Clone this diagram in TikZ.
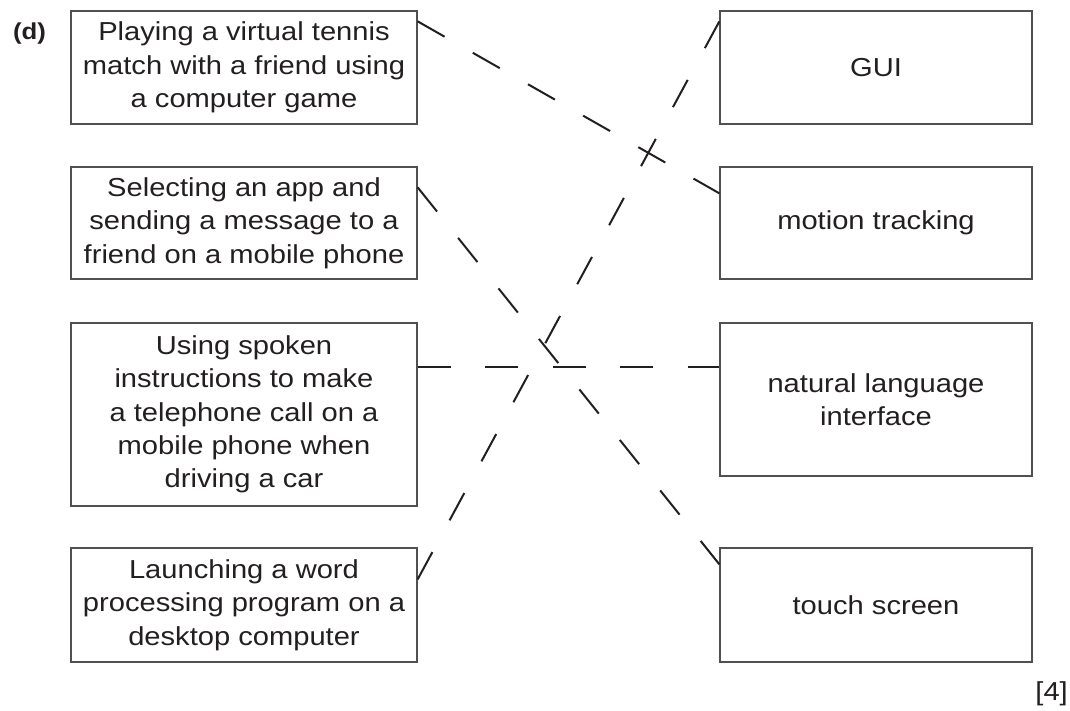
\documentclass[tikz,border=0pt]{standalone}
\usepackage{fontspec}
\setmainfont[FakeStretch=1.12]{Liberation Sans}
\usetikzlibrary{calc}
\definecolor{ink}{HTML}{231F20}
\definecolor{boxgray}{HTML}{505050}
\begin{document}
\begin{tikzpicture}[x=1pt,y=-1pt,
  box/.style={draw=boxgray, line width=1.3pt, inner sep=0pt, align=center,
    text=ink, font=\fontsize{26}{33.3}\selectfont},
  lbox/.style={box, minimum width=346pt},
  rbox/.style={box, minimum width=312pt},
  link/.style={draw=ink, line width=2pt}]
\useasboundingbox (0,0) rectangle (1070,711);

\node[text=ink, font=\bfseries\fontsize{23}{26}\selectfont, anchor=base] (lbl) at (29.5,40) {(d)};

\node[lbox, minimum height=113pt] (p1) at (244,67.5) {Playing a virtual tennis\\match with a friend using\\a computer game};
\node[lbox, minimum height=112pt] (p2) at (244,223) {Selecting an app and\\sending a message to a\\friend on a mobile phone};
\node[lbox, minimum height=183pt] (p3) at (244,414.5) {Using spoken\\instructions to make\\a telephone call on a\\mobile phone when\\driving a car};
\node[lbox, minimum height=114pt] (p4) at (244,605) {Launching a word\\processing program on a\\desktop computer};

\node[rbox, minimum height=113pt] (gui) at (876,67.5) {GUI};
\node[rbox, minimum height=112pt] (mot) at (876,223) {motion tracking};
\node[rbox, minimum height=153pt] (nli) at (876,399.5) {natural language\\interface};
\node[rbox, minimum height=114pt] (tch) at (876,605) {touch screen};

\node[text=ink, font=\fontsize{26}{30}\selectfont, anchor=base east, inner sep=0pt] (marks) at (1068,700) {[4]};

\coordinate (a1) at ($(p1.north east)+(0,11)$);
\coordinate (b1) at ($(mot.north west)+(0,27)$);
\coordinate (a2) at ($(p2.north east)+(0,21)$);
\coordinate (b2) at ($(tch.north west)+(0,17)$);
\coordinate (a3) at ($(p3.north east)+(0,45)$);
\coordinate (b3) at ($(nli.north west)+(0,45)$);
\coordinate (a4) at ($(p4.north east)+(0,32)$);
\coordinate (b4) at ($(gui.north west)+(0,11)$);

\draw[link, dash pattern=on 31pt off 32.5pt] (a1) -- (b1);
\draw[link, dash pattern=on 31pt off 33.7pt] (a2) -- (b2);
\draw[link, dash pattern=on 33pt off 34.5pt] (a3) -- (b3);
\draw[link, dash pattern=on 31pt off 36.1pt] (a4) -- (b4);
\end{tikzpicture}
\end{document}
